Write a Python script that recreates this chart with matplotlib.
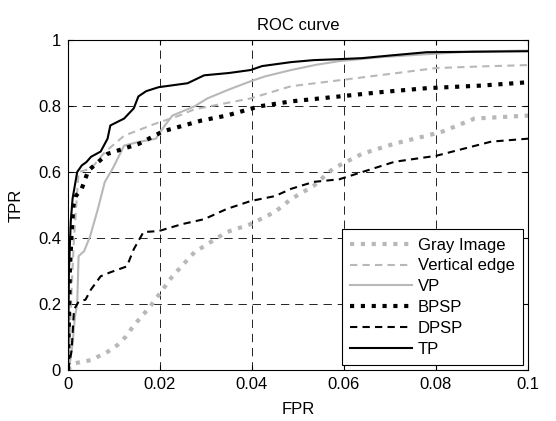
import matplotlib
matplotlib.use("Agg")
import matplotlib.pyplot as plt

plt.rcParams['font.family'] = ['Liberation Sans', 'DejaVu Sans']

# ---- data ----
gray_fpr = [0, 0.0005, 0.0013, 0.005, 0.0086, 0.0107, 0.0125, 0.0143, 0.0165, 0.0185, 0.0227,
            0.0275, 0.0345, 0.0397, 0.045, 0.0485, 0.0534, 0.0576, 0.0639, 0.071, 0.078,
            0.0815, 0.0884, 0.1]
gray_tpr = [0, 0.01, 0.02, 0.03, 0.055, 0.075, 0.1, 0.135, 0.17, 0.204, 0.284,
            0.357, 0.418, 0.442, 0.479, 0.518, 0.558, 0.61, 0.655, 0.686, 0.71,
            0.723, 0.762, 0.771]

vedge_fpr = [0, 0.0004, 0.0008, 0.0013, 0.0018, 0.0023, 0.005, 0.008, 0.0122, 0.0191, 0.024,
             0.0275, 0.033, 0.0397, 0.0485, 0.059, 0.071, 0.08, 0.09, 0.1]
vedge_tpr = [0, 0.1, 0.25, 0.4, 0.5, 0.6, 0.61, 0.66, 0.71, 0.747, 0.77,
             0.79, 0.805, 0.823, 0.86, 0.878, 0.899, 0.915, 0.92, 0.924]

vp_fpr = [0, 0.0005, 0.001, 0.0015, 0.002, 0.0023, 0.0035, 0.0048, 0.0065, 0.008, 0.0097,
          0.0122, 0.015, 0.0191, 0.021, 0.0227, 0.0275, 0.0303, 0.035, 0.0397, 0.0429,
          0.0485, 0.054, 0.059, 0.068, 0.078, 0.088, 0.1]
vp_tpr = [0, 0.03, 0.08, 0.16, 0.2, 0.345, 0.36, 0.405, 0.488, 0.57, 0.61,
          0.68, 0.69, 0.701, 0.74, 0.771, 0.799, 0.823, 0.85, 0.875, 0.89,
          0.909, 0.925, 0.936, 0.948, 0.957, 0.965, 0.968]

bpsp_fpr = [0, 0.0002, 0.0004, 0.0008, 0.0012, 0.0017, 0.003, 0.0044, 0.0086, 0.0155, 0.0206,
            0.029, 0.0345, 0.0416, 0.0485, 0.059, 0.068, 0.078, 0.09, 0.1]
bpsp_tpr = [0, 0.15, 0.3, 0.42, 0.5, 0.527, 0.55, 0.604, 0.655, 0.686, 0.723,
            0.756, 0.771, 0.799, 0.814, 0.829, 0.842, 0.854, 0.862, 0.872]

dpsp_fpr = [0, 0.0003, 0.0008, 0.0013, 0.0023, 0.0038, 0.005, 0.0071, 0.0092, 0.0128, 0.0143,
            0.0164, 0.0197, 0.0248, 0.0296, 0.0345, 0.0397, 0.045, 0.0485, 0.0534, 0.059,
            0.071, 0.08, 0.092, 0.1]
dpsp_tpr = [0, 0.02, 0.061, 0.183, 0.207, 0.213, 0.244, 0.284, 0.296, 0.314, 0.366,
            0.418, 0.421, 0.442, 0.457, 0.488, 0.512, 0.527, 0.549, 0.57, 0.578,
            0.631, 0.649, 0.692, 0.701]

tp_fpr = [0, 0.0002, 0.0006, 0.001, 0.0015, 0.002, 0.003, 0.004, 0.005, 0.0071, 0.0086,
          0.0092, 0.0122, 0.0143, 0.0153, 0.017, 0.0197, 0.026, 0.0296, 0.035, 0.0397,
          0.0422, 0.0485, 0.0534, 0.059, 0.0639, 0.07, 0.078, 0.1]
tp_tpr = [0, 0.3, 0.45, 0.52, 0.56, 0.6, 0.62, 0.63, 0.646, 0.662, 0.701,
          0.741, 0.762, 0.793, 0.829, 0.845, 0.857, 0.869, 0.893, 0.9, 0.909,
          0.921, 0.933, 0.939, 0.942, 0.945, 0.953, 0.963, 0.966]

labels = ['Gray Image', 'Vertical edge', 'VP', 'BPSP', 'DPSP', 'TP']
x_ticks = [0, 0.02, 0.04, 0.06, 0.08, 0.1]
x_ticklabels = ['0', '0.02', '0.04', '0.06', '0.08', '0.1']
y_ticks = [0, 0.2, 0.4, 0.6, 0.8, 1]
y_ticklabels = ['0', '0.2', '0.4', '0.6', '0.8', '1']

# ---- figure ----
fig = plt.figure(figsize=(5.56, 4.21), dpi=100)
ax = fig.add_axes([68 / 556, 51 / 421, 460 / 556, 330 / 421])

gray = '#b8b8b8'
dot = (0, (1, 1.6))
dash = (0, (3.5, 2.5))

ax.plot(gray_fpr, gray_tpr, color=gray, lw=3, linestyle=dot, label=labels[0])
ax.plot(vedge_fpr, vedge_tpr, color=gray, lw=1.5, linestyle=dash, label=labels[1])
ax.plot(vp_fpr, vp_tpr, color=gray, lw=1.5, linestyle='-', label=labels[2])
ax.plot(bpsp_fpr, bpsp_tpr, color='black', lw=3, linestyle=dot, label=labels[3])
ax.plot(dpsp_fpr, dpsp_tpr, color='black', lw=1.5, linestyle=dash, label=labels[4])
ax.plot(tp_fpr, tp_tpr, color='black', lw=1.5, linestyle='-', label=labels[5])

ax.set_xlim(0, 0.1)
ax.set_ylim(0, 1)
ax.set_xticks(x_ticks)
ax.set_xticklabels(x_ticklabels)
ax.set_yticks(y_ticks)
ax.set_yticklabels(y_ticklabels)

ax.grid(True, color='black', lw=0.6, linestyle=(0, (10, 7)))
ax.tick_params(direction='in', length=3.5, width=0.8, top=True, right=True,
               labelsize=12, pad=5)
for s in ax.spines.values():
    s.set_linewidth(0.8)

ax.set_title('ROC curve', fontsize=12, pad=7)
ax.set_xlabel('FPR', fontsize=12, labelpad=7)
ax.set_ylabel('TPR', fontsize=12, labelpad=10)

leg = ax.legend(loc='lower right', bbox_to_anchor=(0.989, 0.015), borderaxespad=0,
                fontsize=12, handlelength=3.7, handletextpad=0.35, labelspacing=0.35,
                borderpad=0.5, fancybox=False, framealpha=1, edgecolor='black')
leg.get_frame().set_linewidth(0.8)

fig.savefig('out.png', dpi=100)
